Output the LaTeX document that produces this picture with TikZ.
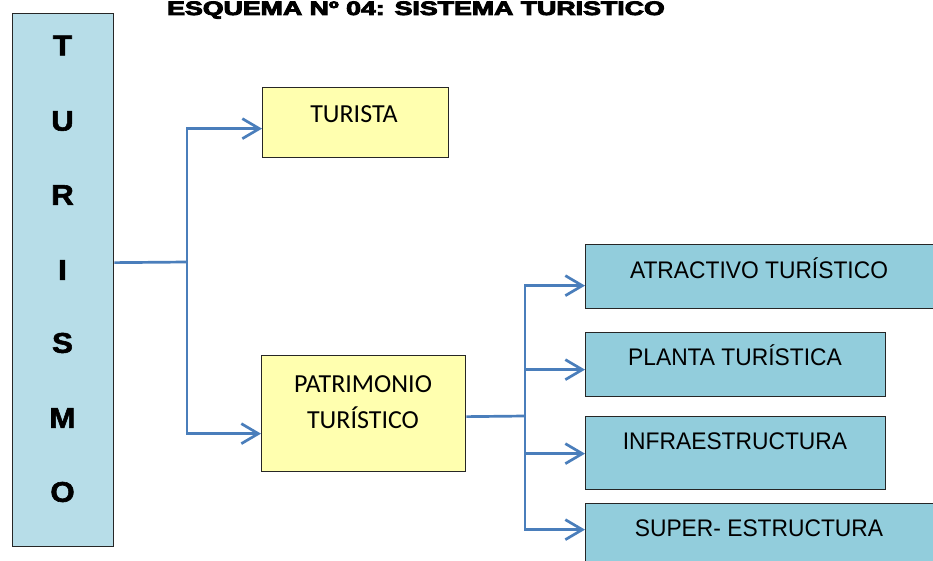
\documentclass[tikz,border=0pt]{standalone}
\usepackage{fontspec}
\setmainfont{Liberation Sans}[FakeStretch=0.95]
\newfontfamily\calfont{Carlito}
\newfontfamily\barfont{Liberation Sans}[BoldFeatures={FakeBold=2,FakeStretch=1.1}]
\newfontfamily\heavyfont{Liberation Sans}[BoldFeatures={FakeBold=4}]
\usetikzlibrary{arrows.meta}
\definecolor{barblue}{HTML}{B7DDE8}
\definecolor{boxblue}{HTML}{92CDDC}
\definecolor{boxyellow}{HTML}{FFFFAF}
\definecolor{linkblue}{HTML}{4A7EBB}
\tikzset{
  box/.style={draw=black!85, line width=1.3pt, inner sep=0pt, anchor=north west},
  ybox/.style={box, fill=boxyellow},
  bbox/.style={box, fill=boxblue},
  letter/.style={font=\barfont\bfseries\fontsize{28.5}{28}\selectfont, inner sep=0pt},
  caltext/.style={font=\calfont\fontsize{26}{30}\selectfont, inner sep=0pt, anchor=base},
  artext/.style={font=\fontsize{24}{28}\selectfont, inner sep=0pt, anchor=base},
  link/.style={draw=linkblue, line width=2.7pt},
  arr/.style={link, -{Straight Barb[length=17pt,width=20pt,line width=2.7pt]}}
}
\begin{document}
\begin{tikzpicture}[x=1pt,y=-1pt]
\clip (0,0) rectangle (933,561);
\useasboundingbox (0,0) rectangle (933,561);
% title
\node[anchor=base west, inner sep=0pt] (title) at (167,15) {\scalebox{1.37}[1]{\heavyfont\bfseries\fontsize{19.5}{20}\selectfont ESQUEMA Nº 04: SISTEMA TURISTICO}};
% left bar
\node[box, fill=barblue, minimum width=101pt, minimum height=533pt] (bar) at (12,13) {};
\foreach \l/\y [count=\i] in {T/45.5,U/121,R/195,I/270,S/343,M/418,O/492}
  \node[letter] (l\i) at (62.5,\y) {\l};
% yellow boxes
\node[ybox, minimum width=186pt, minimum height=70pt] (tur) at (262,87) {};
\node[caltext] (turt) at (354,123) {TURISTA};
\node[ybox, minimum width=204pt, minimum height=116pt] (pat) at (261,355) {};
\node[caltext] (patt1) at (363,392) {PATRIMONIO};
\node[caltext] (patt2) at (363,428.5) {TURÍSTICO};
% blue boxes
\node[bbox, minimum width=360pt, minimum height=64pt] (atr) at (585,244) {};
\node[artext] (atrt) at (759,278) {ATRACTIVO TURÍSTICO};
\node[bbox, minimum width=300pt, minimum height=64pt] (pla) at (585,332) {};
\node[artext] (plat) at (735,365) {PLANTA TURÍSTICA};
\node[bbox, minimum width=300pt, minimum height=73pt] (inf) at (585,416) {};
\node[artext] (inft) at (735,449) {INFRAESTRUCTURA};
\node[bbox, minimum width=360pt, minimum height=72pt] (sup) at (585,503) {};
\node[artext] (supt) at (759,536) {SUPER- ESTRUCTURA};
% connectors
\coordinate (j1) at (187,262);
\coordinate (j2) at (525,416);
\draw[link] ([yshift=17.5pt]bar.east) -- (j1);
\draw[arr] (j1) |- ([yshift=-6pt]tur.west);
\draw[arr] (j1) |- ([yshift=-20pt]pat.west);
\draw[link] ([yshift=-3pt]pat.east) -- (j2);
\draw[arr] (j2) |- ([yshift=-9pt]atr.west);
\draw[arr] (j2) |- ([yshift=-5pt]pla.west);
\draw[arr] (j2) |- ([yshift=-0.5pt]inf.west);
\draw[arr] (j2) |- ([yshift=10pt]sup.west);
\end{tikzpicture}
\end{document}
